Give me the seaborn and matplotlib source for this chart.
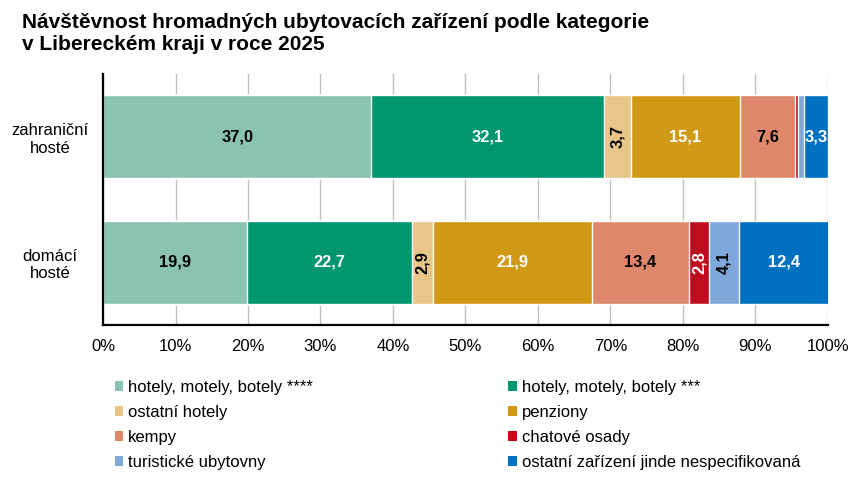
import numpy as np
import pandas as pd
import matplotlib.pyplot as plt
import seaborn as sns
from matplotlib.patches import Patch

# data (shares in %)
hosts = ["zahraniční\nhosté", "domácí\nhosté"]
categories = [
    "hotely, motely, botely ****",
    "hotely, motely, botely ***",
    "ostatní hotely",
    "penziony",
    "kempy",
    "chatové osady",
    "turistické ubytovny",
    "ostatní zařízení jinde nespecifikovaná",
]
foreign = [37.0, 32.1, 3.7, 15.1, 7.6, 0.3, 0.9, 3.3]
domestic = [19.9, 22.7, 2.9, 21.9, 13.4, 2.8, 4.1, 12.4]
colors = ["#8AC3AE", "#00966F", "#E8C68A", "#D09A17",
          "#DE876A", "#C00D1E", "#7FA7D9", "#0070C0"]
text_colors = ["black", "white", "black", "white", "black", "white", "black", "white"]

sns.set_theme(style="white")
plt.rcParams["font.family"] = ["Liberation Sans", "DejaVu Sans"]
plt.rcParams["text.color"] = "black"
plt.rcParams["xtick.color"] = "black"
plt.rcParams["ytick.color"] = "black"

values = np.array([foreign, domestic])
cum = values.cumsum(axis=1)

fig = plt.figure(figsize=(8.62, 4.84), dpi=100)
ax = fig.add_axes([0.1195, 0.3285, 0.841, 0.5185])

# stacked bars: draw cumulative totals from the widest down
for i in reversed(range(len(categories))):
    df = pd.DataFrame({"host": hosts, "value": cum[:, i]})
    sns.barplot(data=df, x="value", y="host", orient="y", color=colors[i],
                saturation=1, width=0.66, ax=ax, zorder=2)

for r in range(len(hosts)):
    for i, cat in enumerate(categories):
        v = values[r, i]
        if v < 1:
            continue
        x = cum[r, i] - v / 2
        rot = 90 if (v < 5 and i < len(categories) - 1) else 0
        ax.text(x, r, f"{v:.1f}".replace(".", ","), ha="center", va="center",
                rotation=rot, color=text_colors[i], fontsize=11.8,
                fontweight="bold", clip_on=True, zorder=3)

ax.set_xlim(0, 100)
ax.set_ylim(1.5, -0.5)
ax.set_xticks(np.arange(0, 101, 10))
ax.set_xticklabels([f"{t}%" for t in range(0, 101, 10)])
ax.xaxis.grid(True, color="#BFBFBF", linewidth=1, zorder=0)
ax.set_axisbelow(True)
ax.set_xlabel("")
ax.set_ylabel("")
ax.tick_params(axis="x", labelsize=12, length=0, pad=10)
ax.tick_params(axis="y", labelsize=12, length=0, pad=38)
for lbl in ax.get_yticklabels():
    lbl.set_horizontalalignment("center")
    lbl.set_multialignment("center")
for side in ["top", "right"]:
    ax.spines[side].set_visible(False)
for side in ["left", "bottom"]:
    ax.spines[side].set_color("black")
    ax.spines[side].set_linewidth(1.6)

fig.text(22 / 862, 1 - 13 / 484,
         "Návštěvnost hromadných ubytovacích zařízení podle kategorie\nv Libereckém kraji v roce 2025",
         ha="left", va="top", fontsize=15, fontweight="bold", linespacing=1.2)

# legend, filled row by row like the reference
handles = [Patch(facecolor=c, edgecolor="none") for c in colors]
order = [0, 2, 4, 6, 1, 3, 5, 7]
fig.legend([handles[k] for k in order], [categories[k] for k in order],
           loc="upper left", bbox_to_anchor=(115 / 862, 1 - 380 / 484),
           ncol=2, frameon=False, fontsize=12, handlelength=0.5, handleheight=0.5,
           handletextpad=0.3, labelspacing=0.6, columnspacing=11.7,
           borderpad=0, borderaxespad=0)

fig.savefig("out.png", dpi=100)
